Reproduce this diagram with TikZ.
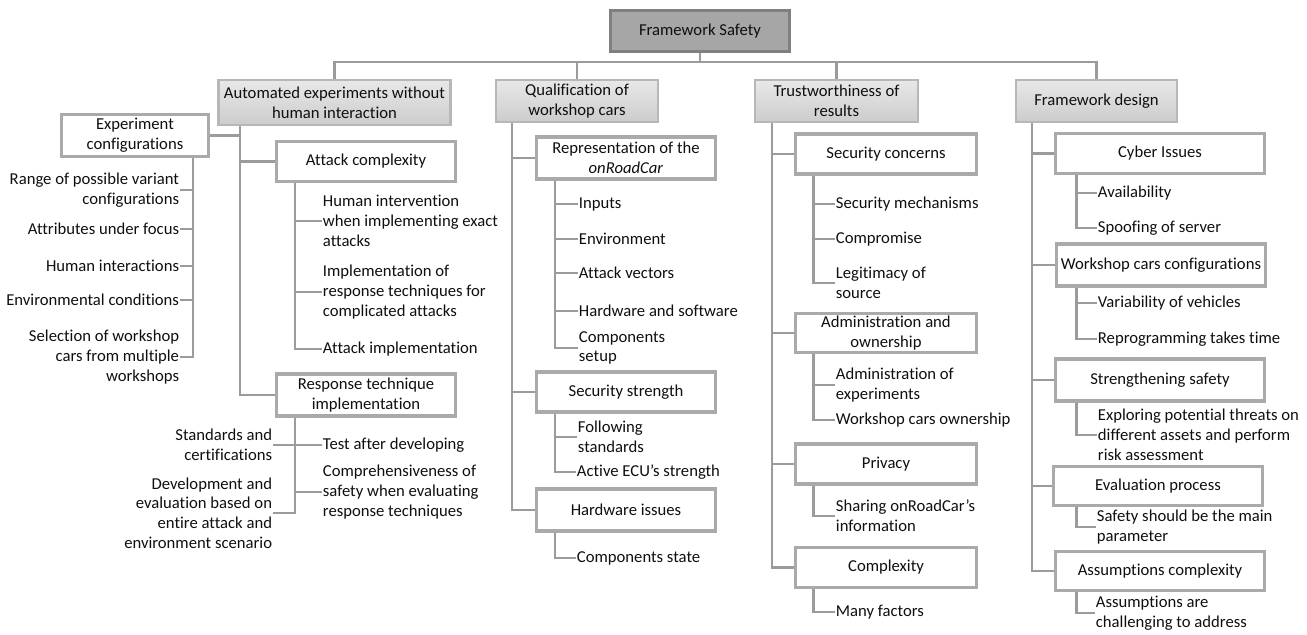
\documentclass[tikz,border=0pt]{standalone}
\usepackage{fontspec}
\setmainfont[Ligatures={NoCommon}]{Carlito}
\usetikzlibrary{calc}
\definecolor{linegray}{RGB}{155,155,155}
\definecolor{boxgray}{RGB}{170,170,170}
\definecolor{rootfill}{RGB}{166,166,166}
\definecolor{rootdraw}{RGB}{128,128,128}
\definecolor{txt}{RGB}{15,15,15}
\tikzset{
  x=0.75pt, y=-0.75pt,
  every node/.style={font=\fontsize{12.5}{14.8}\selectfont, text=txt},
  conn/.style={draw=linegray, line width=2.2pt},
  rootbox/.style={draw=rootdraw, fill=rootfill, line width=2.4pt, align=center, inner sep=2pt},
  topbox/.style={draw=boxgray!85, top color=gray!18, bottom color=gray!40, line width=1.6pt, align=center, inner sep=2pt},
  subbox/.style={draw=boxgray, fill=white, line width=2.4pt, align=center, inner sep=2pt},
  leafl/.style={anchor=west, align=left, inner xsep=0.5pt, inner ysep=0pt},
  leafr/.style={anchor=east, align=right, inner xsep=0.5pt, inner ysep=0pt}
}
\begin{document}
\begin{tikzpicture}
\useasboundingbox (0,0) rectangle (1307,635);
% root and level 1
\node[rootbox, minimum width=134pt, minimum height=31pt] (root) at (700,31) {Framework Safety};
\node[topbox, minimum width=174pt, minimum height=34pt] (A) at (334.5,102.5) {Automated experiments without\\human interaction};
\node[topbox, minimum width=121pt, minimum height=31.5pt] (B) at (577,101) {Qualification of\\workshop cars};
\node[topbox, minimum width=122pt, minimum height=31.5pt] (C) at (836.5,101) {Trustworthiness of\\results};
\node[topbox, minimum width=120.5pt, minimum height=31.5pt] (D) at (1096.5,101) {Framework design};
\coordinate (bus) at (700,62);
\draw[conn] (A.north) |- (bus) -| (D.north);
\draw[conn] (root.south) -- (root.south |- bus);
\draw[conn] (B.north) -- (B.north |- bus);
\draw[conn] (C.north) -- (C.north |- bus);

% ===== Column A =====
\node[subbox, minimum width=110pt, minimum height=32pt] (ec) at (135,135.5) {Experiment\\configurations};
\node[subbox, minimum width=134.5pt, minimum height=30.5pt] (ac) at (366,161.5) {Attack complexity};
\node[subbox, minimum width=134.5pt, minimum height=31.5pt] (rt) at (366,395) {Response technique\\implementation};
\coordinate (tA) at (240,0);
\draw[conn] (A.south -| tA) |- (rt.west);
\draw[conn] (tA |- ac.west) -- (ac.west);
\draw[conn] (tA |- ec.east) -- (ec.east);

\node[leafr] (e1) at (180,190) {Range of possible variant\\configurations};
\node[leafr] (e2) at (180,229) {Attributes under focus};
\node[leafr] (e3) at (180,266) {Human interactions};
\node[leafr] (e4) at (180,300) {Environmental conditions};
\node[leafr] (e5) at (180,357) {Selection of workshop\\cars from multiple\\workshops};
\coordinate (tEC) at (193,0);
\draw[conn] (ec.south -| tEC) |- (e5.east);
\foreach \n in {e1,e2,e3,e4} \draw[conn] (tEC |- \n.east) -- (\n.east);

\node[leafl] (a1) at (322,221) {Human intervention\\when implementing exact\\attacks};
\node[leafl] (a2) at (322,292) {Implementation of\\response techniques for\\complicated attacks};
\node[leafl] (a3) at (322,349) {Attack implementation};
\coordinate (tAC) at (295,0);
\draw[conn] (ac.south -| tAC) |- (a3.west);
\foreach \n in {a1,a2} \draw[conn] (tAC |- \n.west) -- (\n.west);

\node[leafl] (r1) at (322,445) {Test after developing};
\node[leafl] (r2) at (322,492) {Comprehensiveness of\\safety when evaluating\\response techniques};
\node[leafr] (r3) at (273,445) {Standards and\\certifications};
\node[leafr] (r4) at (273,513) {Development and\\evaluation based on\\entire attack and\\environment scenario};
\draw[conn] (rt.south -| tAC) |- (r4.east);
\draw[conn] (tAC |- r1.west) -- (r1.west);
\draw[conn] (tAC |- r2.west) -- (r2.west);
\draw[conn] (tAC |- r3.east) -- (r3.east);

% ===== Column B =====
\node[subbox, minimum width=134.5pt, minimum height=31.5pt] (rep) at (626,158) {Representation of the\\\textit{onRoadCar}};
\node[subbox, minimum width=134.5pt, minimum height=30pt] (ss) at (626,392) {Security strength};
\node[subbox, minimum width=134.5pt, minimum height=31.5pt] (hw) at (626,510) {Hardware issues};
\coordinate (tB) at (512,0);
\draw[conn] (B.south -| tB) |- (hw.west);
\draw[conn] (tB |- rep.west) -- (rep.west);
\draw[conn] (tB |- ss.west) -- (ss.west);

\node[leafl] (b1) at (578,204) {Inputs};
\node[leafl] (b2) at (578,239) {Environment};
\node[leafl] (b3) at (578,273) {Attack vectors};
\node[leafl] (b4) at (578,311) {Hardware and software};
\node[leafl] (b5) at (578,348) {Components\\setup};
\coordinate (tREP) at (555,0);
\draw[conn] (rep.south -| tREP) |- (b5.west);
\foreach \n in {b1,b2,b3,b4} \draw[conn] (tREP |- \n.west) -- (\n.west);

\node[leafl] (s1) at (577,437) {Following\\standards};
\node[leafl] (s2) at (576,472) {Active ECU's strength};
\draw[conn] (ss.south -| tREP) |- (s2.west);
\draw[conn] (tREP |- s1.west) -- (s1.west);

\node[leafl] (h1) at (576,558) {Components state};
\draw[conn] (hw.south -| tREP) |- (h1.west);

% ===== Column C =====
\node[subbox, minimum width=136pt, minimum height=30pt] (sc) at (886,154) {Security concerns};
\node[subbox, minimum width=136pt, minimum height=29pt] (ao) at (886,333) {Administration and\\ownership};
\node[subbox, minimum width=136pt, minimum height=30pt] (pr) at (886,464) {Privacy};
\node[subbox, minimum width=136pt, minimum height=30.5pt] (cx) at (886,567.5) {Complexity};
\coordinate (tC) at (772,0);
\draw[conn] (C.south -| tC) |- (cx.west);
\foreach \n in {sc,ao,pr} \draw[conn] (tC |- \n.west) -- (\n.west);

\node[leafl] (c1) at (835,204) {Security mechanisms};
\node[leafl] (c2) at (835,239) {Compromise};
\node[leafl] (c3) at (835,283) {Legitimacy of\\source};
\coordinate (tSC) at (813.5,0);
\draw[conn] (sc.south -| tSC) |- (c3.west);
\foreach \n in {c1,c2} \draw[conn] (tSC |- \n.west) -- (\n.west);

\node[leafl] (o1) at (835,385) {Administration of\\experiments};
\node[leafl] (o2) at (835,420) {Workshop cars ownership};
\draw[conn] (ao.south -| tSC) |- (o2.west);
\draw[conn] (tSC |- o1.west) -- (o1.west);

\node[leafl] (p1) at (835,516) {Sharing onRoadCar's\\information};
\draw[conn] (pr.south -| tSC) |- (p1.west);

\node[leafl] (x1) at (835,612) {Many factors};
\draw[conn] (cx.south -| tSC) |- (x1.west);

% ===== Column D =====
\node[subbox, minimum width=157pt, minimum height=30.5pt] (ci) at (1160,153.5) {Cyber Issues};
\node[subbox, minimum width=157pt, minimum height=31.5pt] (wc) at (1161,265) {Workshop cars configurations};
\node[subbox, minimum width=157pt, minimum height=31.5pt] (st) at (1160,380) {Strengthening safety};
\node[subbox, minimum width=157pt, minimum height=29pt] (ep) at (1158,486) {Evaluation process};
\node[subbox, minimum width=157pt, minimum height=29pt] (acx) at (1160,571) {Assumptions complexity};
\coordinate (tD) at (1032,0);
\draw[conn] (D.south -| tD) |- (acx.west);
\foreach \n in {ci,wc,st,ep} \draw[conn] (tD |- \n.west) -- (\n.west);

\coordinate (tCI) at (1076.5,0);
\node[leafl] (d1) at (1097,193) {Availability};
\node[leafl] (d2) at (1097,228) {Spoofing of server};
\draw[conn] (ci.south -| tCI) |- (d2.west);
\draw[conn] (tCI |- d1.west) -- (d1.west);

\node[leafl] (w1) at (1097,303) {Variability of vehicles};
\node[leafl] (w2) at (1097,339) {Reprogramming takes time};
\draw[conn] (wc.south -| tCI) |- (w2.west);
\draw[conn] (tCI |- w1.west) -- (w1.west);

\node[leafl] (t1) at (1097,435) {Exploring potential threats on\\different assets and perform\\risk assessment};
\draw[conn] (st.south -| tCI) |- (t1.west);

\node[leafl] (v1) at (1096,527) {Safety should be the main\\parameter};
\draw[conn] (ep.south -| tCI) |- (v1.west);

\node[leafl] (u1) at (1095,613) {Assumptions are\\challenging to address};
\draw[conn] (acx.south -| tCI) |- (u1.west);
\end{tikzpicture}
\end{document}
